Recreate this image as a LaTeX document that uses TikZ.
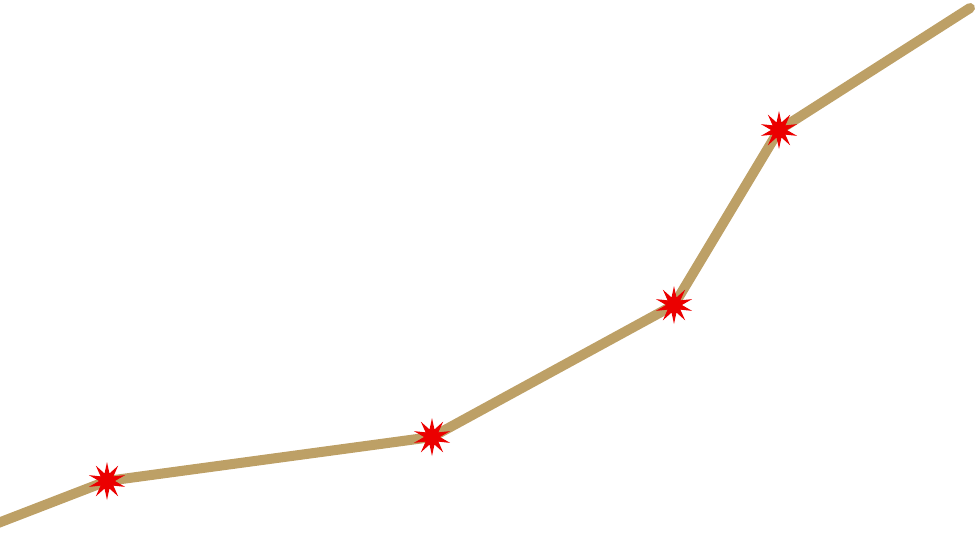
\documentclass[tikz,border=0pt]{standalone}
\usetikzlibrary{shapes.geometric}
\definecolor{tanline}{RGB}{189,160,102}
\definecolor{starred}{RGB}{235,0,0}
\tikzset{
  burst/.style={star, star points=10, star point ratio=2.4, minimum size=38pt, inner sep=0pt, fill=starred, draw=none},
  trail/.style={draw=tanline, line width=10pt, line cap=round, line join=round}
}
\begin{document}
\begin{tikzpicture}[x=1pt,y=-1pt]
\useasboundingbox (0,0) rectangle (978,543);
\clip (0,0) rectangle (978,543);
\coordinate (start) at (-20,530);
\coordinate (finish) at (970,8);
\coordinate (p1) at (107,481);
\coordinate (p2) at (432,437);
\coordinate (p3) at (674,305);
\coordinate (p4) at (779,130);
\draw[trail] (start) -- (p1) -- (p2) -- (p3) -- (p4) -- (finish);
\node[burst] (s1) at (p1) {};
\node[burst] (s2) at (p2) {};
\node[burst] (s3) at (p3) {};
\node[burst] (s4) at (p4) {};
\end{tikzpicture}
\end{document}
